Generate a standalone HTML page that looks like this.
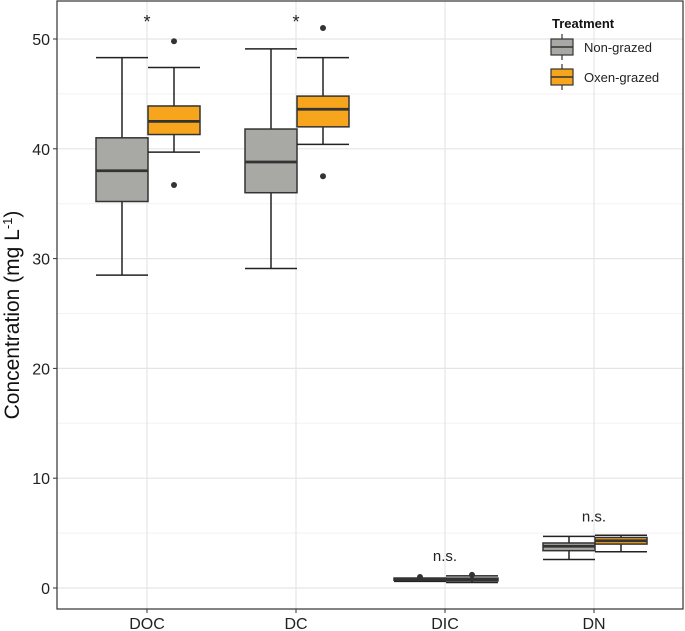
<!DOCTYPE html>
<html><head><meta charset="utf-8"><style>body{margin:0;background:#fff}svg{display:block;font-family:"Liberation Sans",sans-serif}</style></head>
<body>
<svg id="c" width="685" height="631"></svg>
<script>
const categories=["DOC","DC","DIC","DN"];
const groups=["Non-grazed","Oxen-grazed"];
// [lowWhisker, q1, median, q3, highWhisker]
const nonGrazed=[[28.5,35.2,38.0,41.0,48.3],[29.1,36.0,38.8,41.8,49.1],[0.6,0.7,0.8,0.9,0.9],[2.6,3.4,3.8,4.1,4.7]];
const oxenGrazed=[[39.7,41.3,42.5,43.9,47.4],[40.4,42.0,43.6,44.8,48.3],[0.5,0.65,0.8,0.9,1.1],[3.3,4.0,4.3,4.6,4.8]];
const nonOut=[[],[],[1.0],[]];
const oxenOut=[[49.8,36.7],[51.0,37.5],[1.2],[]];
const labels=["*","*","n.s.","n.s."];
const yTicks=[0,10,20,30,40,50];
const NS="http://www.w3.org/2000/svg";
const svg=document.getElementById('c');
const L=57,R=683,T=1,B=609;
const y=v=>588-v*10.98;
const x=i=>147+i*149;
function el(t,a,p){const e=document.createElementNS(NS,t);for(const k in a)e.setAttribute(k,a[k]);(p||svg).appendChild(e);return e;}
const bg=el('rect',{x:L,y:T,width:R-L,height:B-T,fill:'#fff'});


for(let v=5;v<=55;v+=10){if(y(v)>T){const g=el('line',{x1:L,x2:R,y1:y(v),y2:y(v),stroke:'#f2f2f2','stroke-width':1});}}
yTicks.forEach(v=>{const g=el('line',{x1:L,x2:R,y1:y(v),y2:y(v),stroke:'#e5e5e5','stroke-width':1.2});
const tk=el('line',{x1:L-4,x2:L,y1:y(v),y2:y(v),stroke:'#333'});
const t=el('text',{x:L-7,y:y(v)+6,'text-anchor':'end','font-size':16,fill:'#222'});t.textContent=v;});
categories.forEach((c,i)=>{const g=el('line',{x1:x(i),x2:x(i),y1:T,y2:B,stroke:'#e5e5e5','stroke-width':1.2});
const tk=el('line',{x1:x(i),x2:x(i),y1:B,y2:B+4,stroke:'#333'});
const t=el('text',{x:x(i),y:B+20,'text-anchor':'middle','font-size':16,fill:'#222'});t.textContent=c;});
function box(cx,s,fill,outs,name){const g=el('g',{});
const hw=26,ww=26;
el('line',{x1:cx,x2:cx,y1:y(s[0]),y2:y(s[4]),stroke:'#222','stroke-width':1.5},g);
el('line',{x1:cx-ww,x2:cx+ww,y1:y(s[0]),y2:y(s[0]),stroke:'#222','stroke-width':1.5},g);
el('line',{x1:cx-ww,x2:cx+ww,y1:y(s[4]),y2:y(s[4]),stroke:'#222','stroke-width':1.5},g);
el('rect',{x:cx-hw,y:y(s[3]),width:2*hw,height:Math.max(y(s[1])-y(s[3]),1),fill:fill,stroke:'#333','stroke-width':1.5},g);
el('line',{x1:cx-hw,x2:cx+hw,y1:y(s[2]),y2:y(s[2]),stroke:'#333','stroke-width':2.8},g);
outs.forEach(o=>{el('circle',{cx:cx,cy:y(o),r:3,fill:'#333'},g);});}
categories.forEach((c,i)=>{box(x(i)-25,nonGrazed[i],'#a8a8a4',nonOut[i],'box-nongrazed-'+c);box(x(i)+27,oxenGrazed[i],'#f8a51e',oxenOut[i],'box-oxengrazed-'+c);
const top=Math.max(nonGrazed[i][4],oxenGrazed[i][4],...nonOut[i],...oxenOut[i]);
const t=el('text',{x:x(i),y:labels[i]=='*'?28:y(top)-14,'text-anchor':'middle','font-size':labels[i]=='*'?18:15,fill:'#222'});t.textContent=labels[i];});
const br=el('rect',{x:L,y:T,width:R-L,height:B-T,fill:'none',stroke:'#333','stroke-width':1.2});
const yt=el('text',{transform:'translate(19,315) rotate(-90)','text-anchor':'middle','font-size':21,fill:'#111'});yt.innerHTML='Concentration (mg L<tspan baseline-shift="super" font-size="13">-1</tspan>)';
const lg=el('g',{});
const lt=el('text',{x:552,y:28,'font-size':13,'font-weight':'bold',fill:'#111'},lg);lt.textContent='Treatment';
[['#a8a8a4','Non-grazed',47],['#f8a51e','Oxen-grazed',77]].forEach(([f,n,cy])=>{const e=el('g',{},lg);
el('line',{x1:562,x2:562,y1:cy-13,y2:cy+13,stroke:'#333','stroke-width':1.2},e);
el('rect',{x:551,y:cy-8,width:22,height:16,fill:f,stroke:'#333','stroke-width':1.2},e);
el('line',{x1:551,x2:573,y1:cy,y2:cy,stroke:'#333','stroke-width':1.5},e);
const t=el('text',{x:584,y:cy+5,'font-size':13,fill:'#222'},e);t.textContent=n;});
</script>
</body></html>
